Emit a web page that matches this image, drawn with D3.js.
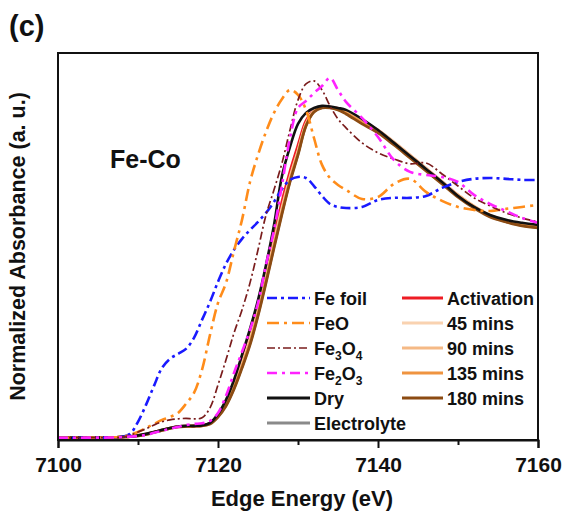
<!DOCTYPE html>
<html>
<head>
<meta charset="utf-8">
<script src="https://cdn.jsdelivr.net/npm/d3@7"></script>
<style>
  html, body { margin: 0; padding: 0; background: #fff; }
  svg text { font-family: "Liberation Sans", Arial, sans-serif; font-weight: bold; fill: #111; }
</style>
</head>
<body>
<svg id="chart" width="571" height="529"></svg>
<script>
// Fe K-edge XANES, Fe-Co sample, with Fe reference compounds
const energy = [7100, 7104, 7107, 7108, 7109, 7110, 7111, 7112, 7113, 7114, 7115, 7116, 7117, 7118, 7119,
  7120, 7121, 7122, 7123, 7124, 7125, 7126, 7127, 7128, 7129, 7130, 7131, 7132, 7133, 7134, 7135, 7136,
  7138, 7140, 7142, 7144, 7146, 7148, 7150, 7152, 7154, 7156, 7158, 7160];

const feFoil = [0, 0, 0.002, 0.005, 0.019, 0.076, 0.156, 0.246, 0.331, 0.374, 0.397, 0.421, 0.473, 0.558, 0.643,
  0.738, 0.823, 0.889, 0.941, 0.983, 1.021, 1.064, 1.116, 1.177, 1.220, 1.234, 1.229, 1.191, 1.144, 1.106, 1.092, 1.087,
  1.092, 1.125, 1.135, 1.135, 1.144, 1.182, 1.210, 1.225, 1.229, 1.225, 1.220, 1.220];

const feO = [0, 0.001, 0.003, 0.005, 0.014, 0.028, 0.047, 0.066, 0.085, 0.099, 0.118, 0.161, 0.213, 0.322, 0.487,
  0.638, 0.733, 0.884, 1.031, 1.210, 1.338, 1.447, 1.537, 1.603, 1.645, 1.622, 1.551, 1.418, 1.291, 1.229, 1.196, 1.173,
  1.130, 1.139, 1.201, 1.225, 1.163, 1.121, 1.092, 1.078, 1.073, 1.083, 1.092, 1.102];

const fe3O4 = [0, 0.001, 0.002, 0.004, 0.012, 0.028, 0.043, 0.061, 0.076, 0.085, 0.090, 0.092, 0.090, 0.095, 0.142,
  0.251, 0.369, 0.496, 0.605, 0.733, 0.889, 1.054, 1.173, 1.300, 1.456, 1.598, 1.674, 1.688, 1.645, 1.570, 1.508, 1.466,
  1.395, 1.348, 1.319, 1.296, 1.300, 1.248, 1.191, 1.135, 1.097, 1.064, 1.040, 1.021];

const fe2O3 = [0, 0.001, 0.002, 0.004, 0.006, 0.009, 0.014, 0.024, 0.033, 0.043, 0.052, 0.061, 0.066, 0.069, 0.080,
  0.118, 0.199, 0.307, 0.407, 0.511, 0.638, 0.818, 0.983, 1.196, 1.418, 1.560, 1.593, 1.631, 1.664, 1.702, 1.645, 1.589,
  1.513, 1.423, 1.314, 1.258, 1.243, 1.234, 1.210, 1.149, 1.106, 1.073, 1.040, 1.017];

const dry = [0, 0.001, 0.002, 0.005, 0.007, 0.012, 0.019, 0.028, 0.038, 0.047, 0.054, 0.057, 0.057, 0.059, 0.071,
  0.113, 0.180, 0.274, 0.392, 0.515, 0.652, 0.818, 1.007, 1.239, 1.376, 1.485, 1.537, 1.560, 1.570, 1.567, 1.560, 1.551,
  1.508, 1.456, 1.395, 1.333, 1.272, 1.210, 1.144, 1.092, 1.054, 1.031, 1.017, 1.007];

const electrolyte = [0, 0.001, 0.002, 0.004, 0.006, 0.009, 0.016, 0.026, 0.035, 0.045, 0.052, 0.054, 0.055, 0.057, 0.067,
  0.101, 0.154, 0.234, 0.334, 0.445, 0.582, 0.738, 0.903, 1.064, 1.214, 1.341, 1.476, 1.542, 1.561, 1.561, 1.553, 1.535,
  1.489, 1.446, 1.389, 1.328, 1.266, 1.204, 1.142, 1.090, 1.047, 1.023, 1.004, 0.995];

const activation = [0, 0.001, 0.002, 0.004, 0.007, 0.011, 0.018, 0.028, 0.037, 0.047, 0.054, 0.056, 0.057, 0.059, 0.070,
  0.109, 0.170, 0.258, 0.368, 0.485, 0.622, 0.780, 0.950, 1.120, 1.262, 1.385, 1.500, 1.552, 1.566, 1.565, 1.559, 1.545,
  1.502, 1.455, 1.398, 1.337, 1.275, 1.212, 1.148, 1.095, 1.052, 1.027, 1.008, 0.999];

const min45 = [0, 0.001, 0.002, 0.004, 0.007, 0.011, 0.018, 0.027, 0.037, 0.047, 0.054, 0.056, 0.057, 0.059, 0.070,
  0.108, 0.166, 0.250, 0.354, 0.470, 0.608, 0.765, 0.930, 1.090, 1.236, 1.360, 1.487, 1.548, 1.564, 1.564, 1.558, 1.543,
  1.500, 1.457, 1.400, 1.339, 1.276, 1.213, 1.150, 1.097, 1.054, 1.029, 1.010, 1.000];

const min90 = [0, 0.001, 0.002, 0.004, 0.006, 0.010, 0.017, 0.027, 0.037, 0.046, 0.053, 0.055, 0.056, 0.058, 0.069,
  0.106, 0.162, 0.244, 0.346, 0.460, 0.598, 0.754, 0.918, 1.078, 1.226, 1.352, 1.482, 1.545, 1.563, 1.563, 1.556, 1.540,
  1.497, 1.454, 1.397, 1.336, 1.273, 1.210, 1.148, 1.095, 1.052, 1.027, 1.008, 0.998];

const min135 = [0, 0.001, 0.002, 0.004, 0.006, 0.010, 0.017, 0.027, 0.036, 0.046, 0.053, 0.055, 0.056, 0.058, 0.068,
  0.103, 0.157, 0.237, 0.338, 0.450, 0.588, 0.744, 0.908, 1.068, 1.218, 1.345, 1.478, 1.543, 1.562, 1.562, 1.554, 1.537,
  1.492, 1.449, 1.392, 1.330, 1.268, 1.206, 1.144, 1.092, 1.049, 1.025, 1.006, 0.996];

const min180 = [0, 0.001, 0.002, 0.004, 0.006, 0.009, 0.016, 0.026, 0.035, 0.045, 0.052, 0.054, 0.055, 0.057, 0.066,
  0.099, 0.151, 0.230, 0.330, 0.440, 0.577, 0.733, 0.898, 1.059, 1.210, 1.338, 1.475, 1.541, 1.560, 1.560, 1.551, 1.532,
  1.485, 1.442, 1.385, 1.324, 1.263, 1.201, 1.139, 1.087, 1.045, 1.021, 1.002, 0.993];

const xTicks = [7100, 7120, 7140, 7160];
const xMinorTicks = [7110, 7130, 7150];

// series styling (drawn in this order)
const series = [
  { key: "Electrolyte", values: electrolyte, color: "#8a8a8a", width: 2.6, dash: null },
  { key: "Activation", values: activation, color: "#ee1c24", width: 2.6, dash: null },
  { key: "45 mins", values: min45, color: "#f9d2b0", width: 2.6, dash: null },
  { key: "90 mins", values: min90, color: "#f5b985", width: 2.6, dash: null },
  { key: "135 mins", values: min135, color: "#ef9440", width: 2.6, dash: null },
  { key: "180 mins", values: min180, color: "#8c4b12", width: 2.8, dash: null },
  { key: "Dry", values: dry, color: "#111111", width: 2.6, dash: null },
  { key: "Fe foil", values: feFoil, color: "#1a1aff", width: 2.6, dash: "10,4,3,4" },
  { key: "FeO", values: feO, color: "#ff8c1a", width: 2.6, dash: "12,5,3,5" },
  { key: "Fe3O4", values: fe3O4, color: "#7a1c1c", width: 1.7, dash: "8,3,2,3" },
  { key: "Fe2O3", values: fe2O3, color: "#ff22ff", width: 2.6, dash: "10,5,3,5" }
];
const byKey = Object.fromEntries(series.map(s => [s.key, s]));

const svg = d3.select("#chart");
const plot = { left: 58, right: 538, top: 53, bottom: 440 };

const x = d3.scaleLinear().domain([7100, 7160]).range([plot.left, plot.right]);
const y = d3.scaleLinear().domain([-0.01, 1.82]).range([plot.bottom, plot.top]);

svg.append("clipPath").attr("id", "plotClip")
  .append("rect")
  .attr("x", plot.left).attr("y", plot.top)
  .attr("width", plot.right - plot.left).attr("height", plot.bottom - plot.top);

const line = d3.line()
  .x((d, i) => x(energy[i]))
  .y(d => y(d))
  .curve(d3.curveCatmullRom.alpha(0.5));

const curves = svg.append("g").attr("clip-path", "url(#plotClip)");
series.forEach(s => {
  curves.append("path")
    .datum(s.values)
    .attr("d", line)
    .attr("fill", "none")
    .attr("stroke", s.color)
    .attr("stroke-width", s.width)
    .attr("stroke-dasharray", s.dash)
    .attr("stroke-linejoin", "round");
});

// frame
svg.append("rect")
  .attr("x", plot.left).attr("y", plot.top)
  .attr("width", plot.right - plot.left).attr("height", plot.bottom - plot.top)
  .attr("fill", "none").attr("stroke", "#111").attr("stroke-width", 2);

// x axis
const xAxis = d3.axisBottom(x).tickValues(xTicks).tickFormat(d3.format("d"))
  .tickSize(8).tickPadding(9);
const gx = svg.append("g").attr("transform", `translate(0,${plot.bottom})`).call(xAxis);
gx.select(".domain").attr("stroke", "#111").attr("stroke-width", 2);
gx.selectAll(".tick line").attr("stroke", "#111").attr("stroke-width", 2);
gx.selectAll(".tick text").style("font-size", "21px").style("font-family", "'Liberation Sans', Arial, sans-serif")
  .style("font-weight", "bold").attr("fill", "#111");

const gxMinor = d3.axisBottom(x).tickValues(xMinorTicks).tickSize(5).tickFormat("");
const gm = svg.append("g").attr("transform", `translate(0,${plot.bottom})`).call(gxMinor);
gm.select(".domain").remove();
gm.selectAll(".tick line").attr("stroke", "#111").attr("stroke-width", 2);

// axis titles
svg.append("text")
  .attr("x", (plot.left + plot.right) / 2 + 4).attr("y", 506)
  .attr("text-anchor", "middle").style("font-size", "22px")
  .text("Edge Energy (eV)");

svg.append("text")
  .attr("transform", `translate(25,${(plot.top + plot.bottom) / 2}) rotate(-90)`)
  .attr("text-anchor", "middle").style("font-size", "21.5px")
  .text("Normalized Absorbance (a. u.)");

// panel label and sample name
svg.append("text").attr("x", 9).attr("y", 36).style("font-size", "29px").text("(c)");
svg.append("text").attr("x", 110).attr("y", 168).style("font-size", "25px").text("Fe-Co");

// legend
const legendCols = [
  { x0: 267, x1: 310, tx: 314, items: [
    { key: "Fe foil", parts: [["Fe foil", false]] },
    { key: "FeO", parts: [["FeO", false]] },
    { key: "Fe3O4", parts: [["Fe", false], ["3", true], ["O", false], ["4", true]] },
    { key: "Fe2O3", parts: [["Fe", false], ["2", true], ["O", false], ["3", true]] },
    { key: "Dry", parts: [["Dry", false]] },
    { key: "Electrolyte", parts: [["Electrolyte", false]] }
  ] },
  { x0: 402, x1: 443, tx: 447, items: [
    { key: "Activation", parts: [["Activation", false]] },
    { key: "45 mins", parts: [["45 mins", false]] },
    { key: "90 mins", parts: [["90 mins", false]] },
    { key: "135 mins", parts: [["135 mins", false]] },
    { key: "180 mins", parts: [["180 mins", false]] }
  ] }
];
const rowY = i => 298 + i * 25;

const legend = svg.append("g");
legendCols.forEach(col => {
  col.items.forEach((it, i) => {
    const s = byKey[it.key];
    const cy = rowY(i);
    legend.append("line")
      .attr("x1", col.x0).attr("x2", col.x1).attr("y1", cy).attr("y2", cy)
      .attr("stroke", s.color).attr("stroke-width", s.dash ? s.width : 3)
      .attr("stroke-dasharray", s.dash);
    const t = legend.append("text").attr("x", col.tx).attr("y", cy + 6.5).style("font-size", "18px");
    it.parts.forEach(([txt, sub]) => {
      const ts = t.append("tspan").text(txt);
      if (sub) ts.style("font-size", "12px").attr("dy", 5);
      else if (t.selectAll("tspan").size() > 1) ts.attr("dy", -5);
    });
  });
});
</script>
</body>
</html>
